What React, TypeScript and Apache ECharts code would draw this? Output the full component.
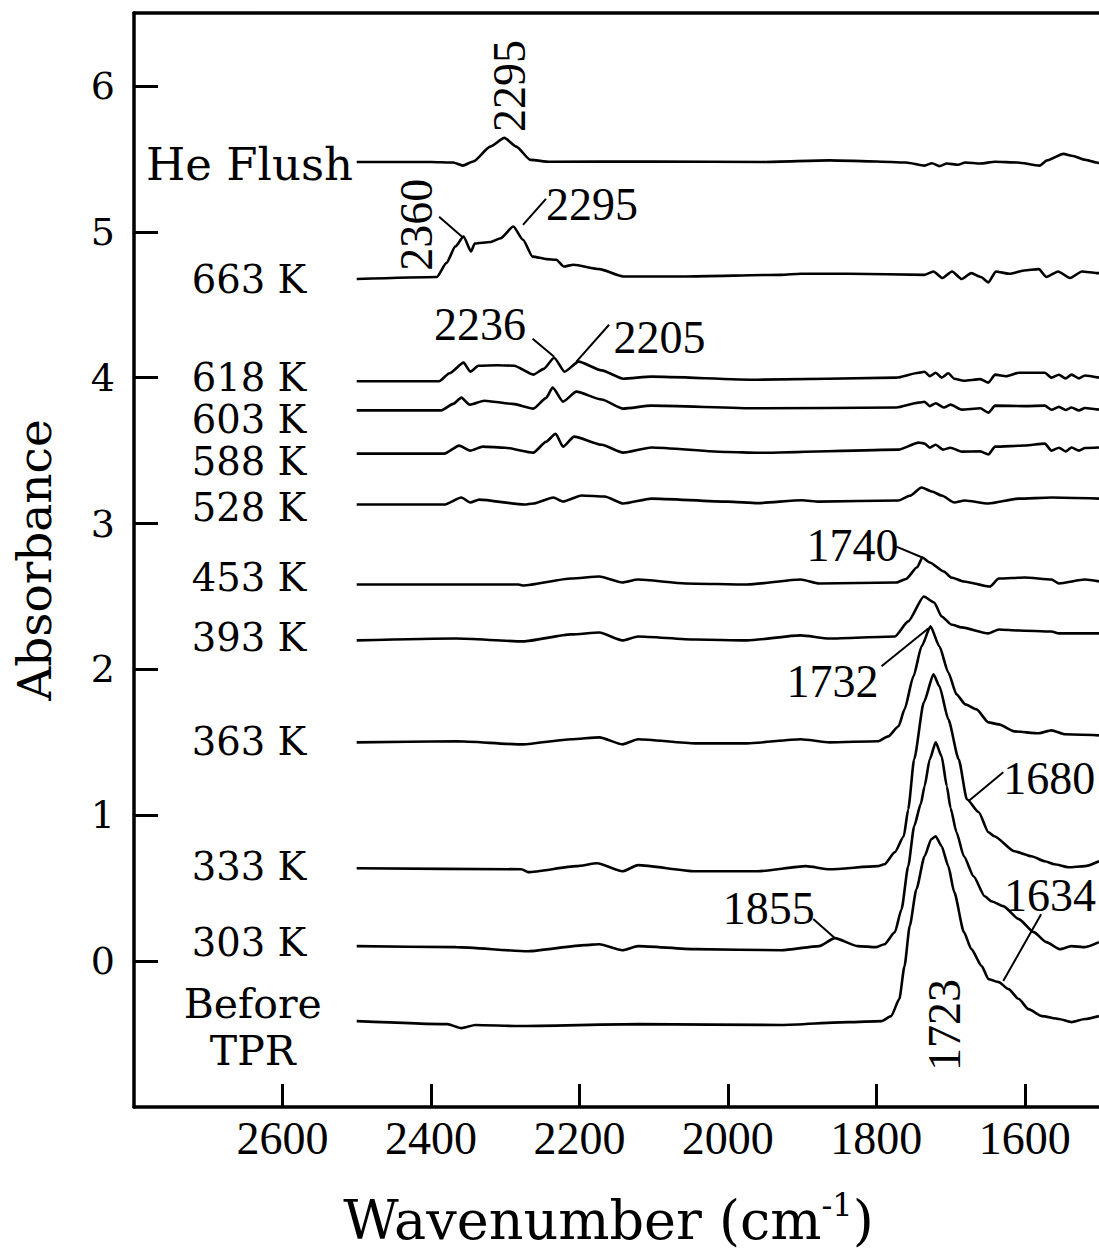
import React, { useEffect, useRef } from 'react';
import * as echarts from 'echarts';

// ---- axis ticks ----
const xTicks = [2600, 2400, 2200, 2000, 1800, 1600];
const yTicks = [0, 1, 2, 3, 4, 5, 6];

// ---- spectra: [wavenumber, absorbance] ----
const heFlush = [[2500,5.479],[2400,5.479],[2370,5.475],[2357,5.454],[2343,5.482],[2320,5.584],[2301,5.644],[2285,5.584],[2266,5.493],[2240,5.480],[2100,5.482],[1950,5.479],[1863,5.490],[1800,5.482],[1760,5.475],[1735,5.454],[1725,5.470],[1715,5.450],[1705,5.468],[1690,5.460],[1680,5.475],[1660,5.468],[1640,5.480],[1610,5.475],[1580,5.454],[1570,5.490],[1548,5.534],[1535,5.520],[1520,5.495],[1503,5.475],[1500,5.470]];
const k663 = [[2500,4.676],[2392,4.690],[2379,4.787],[2367,4.900],[2356,4.968],[2346,4.865],[2341,4.920],[2320,4.930],[2306,4.956],[2289,5.036],[2276,4.945],[2263,4.830],[2244,4.813],[2231,4.808],[2221,4.762],[2208,4.774],[2173,4.744],[2141,4.694],[2058,4.694],[1928,4.705],[1902,4.712],[1837,4.712],[1735,4.705],[1723,4.728],[1711,4.683],[1698,4.728],[1685,4.676],[1672,4.717],[1659,4.690],[1649,4.653],[1639,4.728],[1621,4.712],[1601,4.735],[1581,4.744],[1571,4.690],[1555,4.728],[1539,4.683],[1523,4.728],[1503,4.717],[1500,4.717]];
const k618 = [[2500,3.975],[2389,3.975],[2375,4.030],[2356,4.103],[2347,4.041],[2336,4.082],[2310,4.085],[2288,4.082],[2262,4.021],[2248,4.060],[2234,4.137],[2220,4.041],[2201,4.110],[2170,4.050],[2141,3.993],[2103,4.007],[1960,3.986],[1773,4.000],[1743,4.034],[1735,4.041],[1728,4.010],[1720,4.034],[1712,4.000],[1703,4.030],[1695,3.993],[1682,3.979],[1660,3.990],[1649,3.966],[1640,4.021],[1625,4.010],[1608,4.034],[1573,4.034],[1564,4.000],[1554,4.020],[1545,3.995],[1537,4.021],[1527,3.995],[1519,4.015],[1500,4.000]];
const k603 = [[2500,3.776],[2386,3.776],[2370,3.820],[2359,3.863],[2348,3.815],[2328,3.842],[2290,3.820],[2262,3.788],[2245,3.860],[2236,3.932],[2222,3.836],[2204,3.904],[2170,3.850],[2141,3.788],[2103,3.808],[1960,3.790],[1773,3.795],[1743,3.829],[1735,3.835],[1728,3.805],[1720,3.825],[1709,3.795],[1700,3.815],[1685,3.781],[1660,3.790],[1649,3.760],[1640,3.808],[1600,3.805],[1573,3.808],[1564,3.780],[1554,3.800],[1545,3.778],[1537,3.795],[1527,3.775],[1519,3.792],[1500,3.781]];
const k588 = [[2500,3.479],[2382,3.479],[2362,3.534],[2347,3.500],[2330,3.527],[2300,3.520],[2262,3.486],[2245,3.560],[2232,3.616],[2222,3.527],[2207,3.596],[2170,3.540],[2141,3.486],[2103,3.521],[2000,3.490],[1960,3.485],[1770,3.507],[1743,3.555],[1735,3.548],[1728,3.520],[1720,3.540],[1710,3.507],[1700,3.520],[1685,3.493],[1660,3.495],[1649,3.473],[1640,3.527],[1600,3.535],[1573,3.548],[1564,3.500],[1554,3.520],[1545,3.495],[1537,3.521],[1527,3.500],[1519,3.518],[1500,3.521]];
const k528 = [[2500,3.130],[2382,3.130],[2359,3.178],[2347,3.144],[2335,3.164],[2274,3.130],[2262,3.137],[2235,3.178],[2222,3.151],[2197,3.192],[2166,3.185],[2141,3.137],[2103,3.171],[2000,3.150],[1960,3.140],[1900,3.160],[1877,3.150],[1770,3.158],[1755,3.190],[1739,3.247],[1725,3.220],[1712,3.192],[1695,3.144],[1681,3.158],[1649,3.137],[1608,3.171],[1564,3.178],[1500,3.171]];
const k453 = [[2500,2.582],[2282,2.582],[2276,2.575],[2211,2.623],[2173,2.637],[2142,2.596],[2121,2.616],[2057,2.589],[1974,2.582],[1902,2.616],[1877,2.589],[1773,2.596],[1760,2.620],[1745,2.700],[1738,2.767],[1728,2.733],[1709,2.671],[1699,2.630],[1682,2.603],[1647,2.568],[1635,2.623],[1600,2.630],[1564,2.616],[1554,2.589],[1519,2.616],[1500,2.603]];
const k393 = [[2500,2.199],[2366,2.212],[2276,2.192],[2211,2.240],[2173,2.253],[2142,2.199],[2121,2.226],[2044,2.205],[1974,2.199],[1902,2.233],[1863,2.212],[1775,2.226],[1757,2.329],[1736,2.500],[1722,2.459],[1712,2.363],[1699,2.308],[1685,2.288],[1649,2.247],[1635,2.274],[1608,2.267],[1564,2.260],[1554,2.247],[1500,2.247]];
const k363 = [[2500,1.500],[2366,1.507],[2276,1.486],[2211,1.521],[2173,1.534],[2142,1.486],[2121,1.521],[2044,1.493],[1974,1.493],[1902,1.521],[1863,1.500],[1798,1.507],[1784,1.541],[1770,1.610],[1762,1.726],[1750,1.952],[1739,2.158],[1727,2.295],[1715,2.158],[1703,1.979],[1692,1.829],[1680,1.760],[1665,1.726],[1649,1.637],[1635,1.623],[1614,1.575],[1581,1.562],[1564,1.582],[1546,1.555],[1500,1.548]];
const k333 = [[2500,0.637],[2278,0.630],[2269,0.610],[2204,0.651],[2176,0.671],[2142,0.616],[2121,0.658],[2044,0.616],[1960,0.616],[1895,0.651],[1863,0.630],[1798,0.651],[1789,0.664],[1775,0.747],[1763,0.856],[1757,1.041],[1749,1.384],[1736,1.774],[1723,1.966],[1715,1.884],[1703,1.658],[1689,1.384],[1678,1.110],[1662,1.021],[1649,0.884],[1641,0.856],[1614,0.753],[1591,0.719],[1573,0.685],[1560,0.664],[1541,0.644],[1519,0.651],[1500,0.685]];
const k303 = [[2500,0.103],[2366,0.096],[2269,0.068],[2192,0.110],[2173,0.116],[2142,0.075],[2121,0.103],[2044,0.082],[1928,0.075],[1877,0.103],[1856,0.158],[1825,0.103],[1800,0.096],[1789,0.116],[1775,0.199],[1766,0.356],[1757,0.651],[1749,0.925],[1740,1.080],[1735,1.199],[1728,1.384],[1720,1.500],[1712,1.404],[1705,1.199],[1700,1.050],[1692,0.884],[1682,0.719],[1669,0.582],[1654,0.445],[1645,0.411],[1629,0.377],[1608,0.288],[1588,0.199],[1571,0.130],[1553,0.082],[1537,0.103],[1519,0.096],[1500,0.130]];
const beforeTPR = [[2500,-0.411],[2378,-0.432],[2359,-0.459],[2340,-0.438],[2282,-0.445],[2121,-0.432],[1928,-0.438],[1837,-0.418],[1793,-0.411],[1780,-0.377],[1769,-0.260],[1762,-0.034],[1755,0.240],[1746,0.493],[1735,0.719],[1726,0.836],[1720,0.856],[1712,0.788],[1703,0.651],[1695,0.473],[1682,0.199],[1672,0.082],[1658,-0.034],[1649,-0.123],[1635,-0.144],[1622,-0.192],[1608,-0.260],[1595,-0.329],[1577,-0.377],[1554,-0.397],[1537,-0.418],[1519,-0.397],[1500,-0.377]];

const spectra = [heFlush, k663, k618, k603, k588, k528, k453, k393, k363, k333, k303, beforeTPR];

// ---- trace names (anchored at label right edge / centre) ----
const traceNames = ['663 K', '618 K', '603 K', '588 K', '528 K', '453 K', '393 K', '363 K', '333 K', '303 K'];
const traceNameY = [4.67, 4.003, 3.716, 3.425, 3.11, 2.63, 2.219, 1.503, 0.651, 0.13];
const traceNameX = 2568;
const heFlushLabel = { text: 'He Flush', x: 2505, y: 5.459 };
const beforeLabel = { text: 'Before\nTPR', x: 2640, y: -0.452 };

// ---- peak annotations ----
const peakTexts = ['2295', '2360', '2295', '2236', '2205', '1740', '1732', '1680', '1855', '1634', '1723'];
const peakX = [2294, 2420, 2183, 2334, 2092, 1832, 1859, 1567, 1945, 1566, 1708];
const peakY = [6.0, 5.048, 5.19, 4.363, 4.274, 2.849, 1.918, 1.253, 0.363, 0.452, -0.438];
const peakRot = [90, 90, 0, 0, 0, 0, 0, 0, 0, 0, 90];
const leaders = [
  [[2389, 5.103], [2358, 4.966]],
  [[2245, 5.226], [2276, 5.048]],
  [[2263, 4.267], [2234, 4.144]],
  [[2160, 4.363], [2204, 4.11]],
  [[1773, 2.842], [1738, 2.767]],
  [[1793, 2.021], [1730, 2.28]],
  [[1629, 1.295], [1676, 1.096]],
  [[1885, 0.288], [1856, 0.158]],
  [[1578, 0.322], [1629, -0.137]],
];

const WIDE = '"DejaVu Serif", serif';
const NARROW = '"Liberation Serif", serif';

export default function App() {
  const ref = useRef<HTMLDivElement>(null);
  useEffect(() => {
    if (!ref.current) return;
    const chart = echarts.init(ref.current, undefined, { renderer: 'svg' });

    const lineSeries = spectra.map((d) => ({
      type: 'line',
      data: d,
      symbol: 'none',
      showSymbol: false,
      silent: true,
      smooth: 0.2,
      smoothMonotone: 'x',
      lineStyle: { color: '#000', width: 2.6 },
      z: 2,
    }));

    const txt = (extra: any) => ({ show: true, color: '#000', opacity: 1, textBorderWidth: 0, ...extra });

    const nameItems: any[] = traceNames.map((t, i) => ({
      value: [traceNameX, traceNameY[i]],
      label: txt({ position: 'left', distance: 0, formatter: t, fontSize: 38.5, fontFamily: WIDE }),
    }));
    nameItems.push({
      value: [heFlushLabel.x, heFlushLabel.y],
      label: txt({ position: 'left', distance: 0, formatter: heFlushLabel.text, fontSize: 45, fontFamily: WIDE }),
    });
    nameItems.push({
      value: [beforeLabel.x, beforeLabel.y],
      label: txt({ position: 'inside', formatter: beforeLabel.text, fontSize: 41, lineHeight: 47, align: 'center', fontFamily: WIDE }),
    });

    const peakItems = peakTexts.map((t, i) => ({
      value: [peakX[i], peakY[i]],
      label: txt({ position: 'inside', formatter: t, rotate: peakRot[i], fontSize: 46, fontFamily: NARROW }),
    }));

    const option: any = {
      animation: false,
      backgroundColor: '#fff',
      grid: { left: 134, top: 13, width: 965, height: 1095 },
      xAxis: [
        {
          type: 'value', min: 1500, max: 2800, inverse: true, position: 'bottom',
          name: '{a|Wavenumber (cm}{b|-1}{a|)}', nameLocation: 'middle', nameGap: 82,
          nameTextStyle: {
            padding: [0, 16, 0, 0],
            rich: {
              a: { fontFamily: WIDE, fontSize: 54, color: '#000', lineHeight: 62 },
              b: { fontFamily: WIDE, fontSize: 32, color: '#000', verticalAlign: 'top', lineHeight: 62, padding: [0, 0, 28, 0] },
            },
          },
          axisLine: { show: true, onZero: false, lineStyle: { color: '#000', width: 3.5 } },
          axisTick: { show: true, inside: true, length: 23, customValues: xTicks, lineStyle: { color: '#000', width: 3 } },
          axisLabel: { customValues: xTicks, formatter: (v: number) => String(v), fontFamily: NARROW, fontSize: 46, color: '#000', margin: 8 },
          splitLine: { show: false },
        },
        {
          type: 'value', min: 1500, max: 2800, inverse: true, position: 'top',
          axisLine: { show: true, onZero: false, lineStyle: { color: '#000', width: 3.5 } },
          axisTick: { show: false }, axisLabel: { show: false }, splitLine: { show: false },
        },
      ],
      yAxis: {
        type: 'value', min: -1, max: 6.5, position: 'left',
        name: 'Absorbance', nameLocation: 'middle', nameGap: 76,
        nameTextStyle: { fontFamily: WIDE, fontSize: 47, color: '#000' },
        axisLine: { show: true, onZero: false, lineStyle: { color: '#000', width: 3.5 } },
        axisTick: { show: true, inside: true, length: 24, customValues: yTicks, lineStyle: { color: '#000', width: 3 } },
        axisLabel: { customValues: yTicks, formatter: (v: number) => String(v), fontFamily: WIDE, fontSize: 38, color: '#000', margin: 19 },
        splitLine: { show: false },
      },
      series: [
        ...lineSeries,
        {
          type: 'scatter', silent: true, symbolSize: 0, itemStyle: { color: '#000' },
          data: nameItems, z: 3,
        },
        {
          type: 'scatter', silent: true, symbolSize: 0, itemStyle: { color: '#000' },
          data: peakItems, z: 3,
          markLine: {
            silent: true, symbol: ['none', 'none'], animation: false,
            label: { show: false },
            lineStyle: { color: '#000', width: 2, type: 'solid' },
            emphasis: { disabled: true },
            data: leaders.map(([a, b]) => [{ coord: a }, { coord: b }]),
          },
        },
      ],
    };
    chart.setOption(option);
    return () => chart.dispose();
  }, []);

  return (
    <div
      ref={ref}
      style={{ position: 'absolute', left: 0, top: 0, width: 1099, height: 1254, background: '#fff' }}
    />
  );
}
